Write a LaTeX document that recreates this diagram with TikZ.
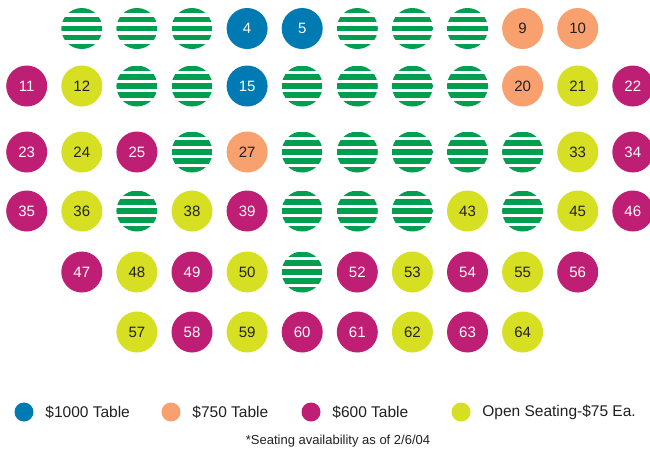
\documentclass[tikz,border=0pt]{standalone}
\usepackage{fontspec}
\setmainfont{Liberation Sans}
\usetikzlibrary{positioning}
\definecolor{tblblue}{RGB}{0,122,178}
\definecolor{tblorange}{RGB}{248,160,110}
\definecolor{tblmag}{RGB}{190,30,115}
\definecolor{tblopen}{RGB}{215,223,35}
\definecolor{tblsold}{RGB}{0,158,79}
\definecolor{tbltext}{RGB}{35,31,32}
\def\soldkey{sold}
\newcommand\seatno[2]{\edef\tmpseat{#1}\ifx\tmpseat\soldkey\else#2\fi}
\tikzset{
  seat/.style ={circle, minimum size=41pt, inner sep=0pt,
                font=\fontsize{15}{18}\selectfont},
  blu/.style  ={seat, fill=tblblue, text=white},
  org/.style  ={seat, fill=tblorange, text=tbltext},
  mag/.style  ={seat, fill=tblmag, text=white},
  opn/.style  ={seat, fill=tblopen, text=tbltext},
  sold/.style ={seat, path picture={
                  \foreach \k in {0,...,4}
                    \fill[tblsold] ([yshift=-\k*8.9pt]path picture bounding box.north west)
                      rectangle ++(41pt,-5.4pt);}},
  key/.style  ={circle, minimum size=19pt, inner sep=0pt},
  keytxt/.style={inner sep=0pt, text=tbltext, font=\fontsize{15.5}{18}\selectfont},
  note/.style ={inner sep=0pt, text=tbltext, font=\fontsize{13}{15}\selectfont}
}

\begin{document}
\begin{tikzpicture}[x=1pt, y=-1pt, node distance=11.5pt]
    \useasboundingbox (0,0) rectangle (650,451);
    % seating rows
    \foreach \s [count=\i from 1] in {sold,sold,sold,blu,blu,sold,sold,sold,org,org}
      \node[\s] (t\i) at (26.7+55.1*\i, 28.5) {\seatno{\s}{\i}};
    \foreach \s [count=\i from 11] in {mag,opn,sold,sold,blu,sold,sold,sold,sold,org,opn,mag}
      \node[\s] (t\i) at (26.7+55.1*\i-606.1, 86) {\seatno{\s}{\i}};
    \foreach \s [count=\i from 23] in {mag,opn,mag,sold,org,sold,sold,sold,sold,sold,opn,mag}
      \node[\s] (t\i) at (26.7+55.1*\i-1267.3, 152) {\seatno{\s}{\i}};
    \foreach \s [count=\i from 35] in {mag,opn,sold,opn,mag,sold,sold,sold,opn,sold,opn,mag}
      \node[\s] (t\i) at (26.7+55.1*\i-1928.5, 211) {\seatno{\s}{\i}};
    \foreach \s [count=\i from 47] in {mag,opn,mag,opn,sold,mag,opn,mag,opn,mag}
      \node[\s] (t\i) at (26.7+55.1*\i-2534.6, 272) {\seatno{\s}{\i}};
    \foreach \s [count=\i from 57] in {opn,mag,opn,mag,mag,opn,mag,opn}
      \node[\s] (t\i) at (26.7+55.1*\i-3030.5, 332) {\seatno{\s}{\i}};
    % legend
    \node[key, fill=tblblue] (kblue) at (24,412) {};
    \node[keytxt, right=of kblue] (lblue) {\$1000 Table};
    \node[key, fill=tblorange] (korange) at (171,412) {};
    \node[keytxt, right=of korange] (lorange) {\$750 Table};
    \node[key, fill=tblmag] (kmag) at (311,412) {};
    \node[keytxt, right=of kmag] (lmag) {\$600 Table};
    \node[key, fill=tblopen] (kopen) at (461,412) {};
    \node[keytxt, right=of kopen] (lopen) {Open Seating-\$75 Ea.};
    \node[note] (avail) at (338,441) {*Seating availability as of 2/6/04};
\end{tikzpicture}
\end{document}
